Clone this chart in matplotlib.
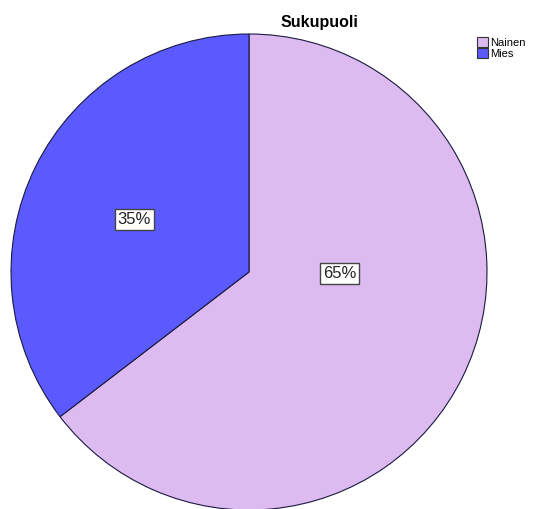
import matplotlib
matplotlib.use("Agg")
import matplotlib.pyplot as plt
import numpy as np

categories = ["Nainen", "Mies"]
values = [64.6, 35.4]
labels = [f"{round(v)}%" for v in values]
colors = ["#DDBBF0", "#5A5AFF"]

W, H = 537, 509
fig = plt.figure(figsize=(W / 100, H / 100), dpi=100)
fig.patch.set_facecolor("white")

cx, cy, r = 249, 272, 238
ax = fig.add_axes([(cx - r) / W, (H - cy - r) / H, 2 * r / W, 2 * r / H])
wedges, _ = ax.pie(values, colors=colors, startangle=90, counterclock=False,
                   radius=1.0,
                   wedgeprops=dict(edgecolor="#1a1a40", linewidth=0.8))
ax.set_xlim(-1, 1)
ax.set_ylim(-1, 1)
ax.set_aspect("equal")
ax.axis("off")

# label positions (radius fraction, angle in degrees)
label_pos = [(0.38, -1.0), (0.53, 155.5)]
for lab, (rr, ang) in zip(labels, label_pos):
    a = np.deg2rad(ang)
    ax.text(rr * np.cos(a), rr * np.sin(a), lab, ha="center", va="center",
            fontsize=12, family="Liberation Sans", color="#222222",
            bbox=dict(boxstyle="square,pad=0.18", facecolor="white",
                      edgecolor="#444444", linewidth=1.0))

fig.text(319 / W, 1 - 22 / H, "Sukupuoli", ha="center", va="center",
         fontsize=11.5, fontweight="bold", family="Liberation Sans")

leg = fig.legend(wedges, categories, loc="upper left",
                 bbox_to_anchor=(477 / W, 1 - 37 / H), frameon=False,
                 prop=dict(family="Liberation Sans", size=8),
                 handlelength=1.0, handleheight=1.0, handletextpad=0.2,
                 labelspacing=0.05, borderpad=0, borderaxespad=0)
for h in leg.legend_handles:
    h.set_edgecolor("#333333")
    h.set_linewidth(0.8)

fig.savefig("out.png", dpi=100, facecolor="white")
